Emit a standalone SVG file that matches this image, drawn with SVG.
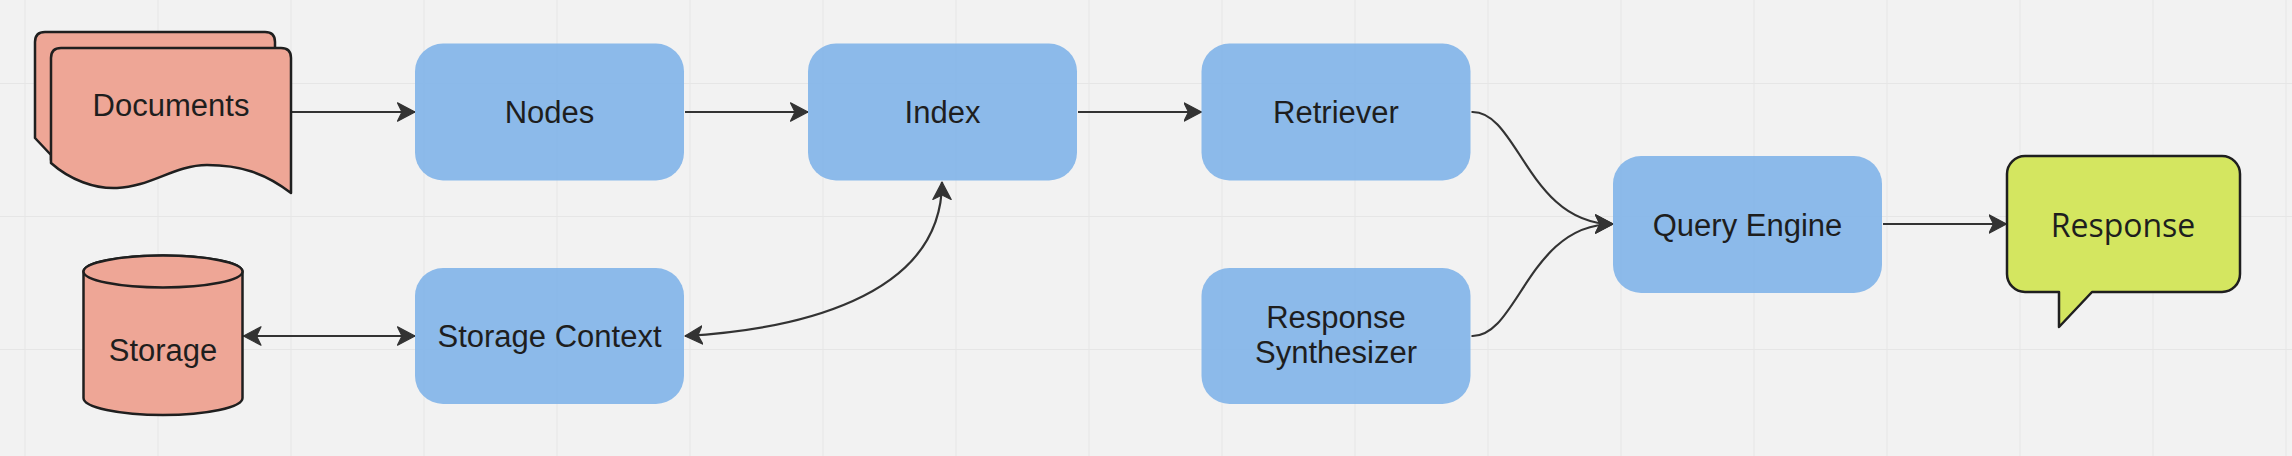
<svg xmlns="http://www.w3.org/2000/svg" width="2292" height="456" viewBox="0 0 2292 456">
  <style>
    .box { fill: #86b6e9; fill-opacity: 0.95; }
    .salmon { fill: #eea696; stroke: #1f1f1f; stroke-width: 2.5; stroke-linejoin: round; }
    .green { fill: #d4e660; stroke: #1f1f1f; stroke-width: 2.5; stroke-linejoin: round; }
    .lbl { font-family: "Liberation Sans", Arial, sans-serif; font-size: 31px; fill: #1e1e1e; text-anchor: middle; }
    .lbl2 { font-family: "Open Sans", "Noto Sans", sans-serif; font-size: 32px; fill: #1e1e1e; text-anchor: middle; }
    .conn { fill: none; stroke: #333333; stroke-width: 2.2; }
  </style>
  <defs>
    <pattern id="grid" patternUnits="userSpaceOnUse" x="24.5" y="83" width="133" height="133">
      <rect width="133" height="133" fill="#f2f2f2"/>
      <path d="M0 0 L133 0 M0 0 L0 133" stroke="#e6e6e6" stroke-width="2" fill="none"/>
    </pattern>
    <marker id="arr" markerUnits="userSpaceOnUse" viewBox="0 0 20 20" refX="18" refY="10" markerWidth="20" markerHeight="20" orient="auto-start-reverse">
      <path d="M18 10 L0.5 0.8 L5 10 L0.5 19.2 Z" fill="#333333" stroke="#333333" stroke-width="1.2" stroke-linejoin="round"/>
    </marker>
  </defs>
  <rect x="0" y="0" width="2292" height="456" fill="url(#grid)"/>

  <g id="connectors">
    <path class="conn" d="M291 112 L415 112" marker-end="url(#arr)"/>
    <path class="conn" d="M685 112 L808 112" marker-end="url(#arr)"/>
    <path class="conn" d="M1078 112 L1201.5 112" marker-end="url(#arr)"/>
    <path class="conn" d="M243.5 336 L415 336" marker-start="url(#arr)" marker-end="url(#arr)"/>
    <path class="conn" d="M685 336 C790 330, 942 300, 942 182" marker-start="url(#arr)" marker-end="url(#arr)"/>
    <path class="conn" d="M1471.5 112 C1518 110, 1528 224, 1613 224" marker-end="url(#arr)"/>
    <path class="conn" d="M1471.5 336 C1518 338, 1528 224, 1613 224" marker-end="url(#arr)"/>
    <path class="conn" d="M1883 224 L2006.5 224" marker-end="url(#arr)"/>
  </g>

  <g id="documents">
    <path class="salmon" d="M51 155 L35 138 L35 42 Q35 32 45 32 L265 32 Q275 32 275 42 L275 160 L51 160 Z"/>
    <path class="salmon" d="M51 163 L51 58 Q51 48 61 48 L281 48 Q291 48 291 58 L291 193 C265 173, 240 165, 207 165 C175 165, 150 187, 117 188 C95 189, 70 180, 51 163 Z"/>
    <text class="lbl" x="171" y="116">Documents</text>
  </g>

  <g id="storage">
    <path class="salmon" d="M83.5 271.5 L83.5 398 A79.5 17 0 0 0 242.5 398 L242.5 271.5 A79.5 16 0 0 0 83.5 271.5 Z"/>
    <ellipse class="salmon" cx="163" cy="271.5" rx="79.5" ry="16"/>
    <text class="lbl" x="163" y="361">Storage</text>
  </g>

  <g id="nodes">
    <rect class="box" x="415" y="43.5" width="269" height="137" rx="28"/>
    <text class="lbl" x="549.5" y="123">Nodes</text>
  </g>

  <g id="index">
    <rect class="box" x="808" y="43.5" width="269" height="137" rx="28"/>
    <text class="lbl" x="942.5" y="123">Index</text>
  </g>

  <g id="retriever">
    <rect class="box" x="1201.5" y="43.5" width="269" height="137" rx="28"/>
    <text class="lbl" x="1336" y="123">Retriever</text>
  </g>

  <g id="storage-context">
    <rect class="box" x="415" y="268" width="269" height="136" rx="28"/>
    <text class="lbl" x="549.5" y="347">Storage Context</text>
  </g>

  <g id="response-synthesizer">
    <rect class="box" x="1201.5" y="268" width="269" height="136" rx="28"/>
    <text class="lbl" x="1336" y="328">Response</text>
    <text class="lbl" x="1336" y="363">Synthesizer</text>
  </g>

  <g id="query-engine">
    <rect class="box" x="1613" y="156" width="269" height="137" rx="28"/>
    <text class="lbl" x="1747.5" y="235.5">Query Engine</text>
  </g>

  <g id="response">
    <path class="green" d="M2025 156 L2222 156 A18 18 0 0 1 2240 174 L2240 274 A18 18 0 0 1 2222 292 L2092 292 L2059 327 L2059 292 L2025 292 A18 18 0 0 1 2007 274 L2007 174 A18 18 0 0 1 2025 156 Z"/>
    <text class="lbl2" x="2123" y="237">Response</text>
  </g>
</svg>
